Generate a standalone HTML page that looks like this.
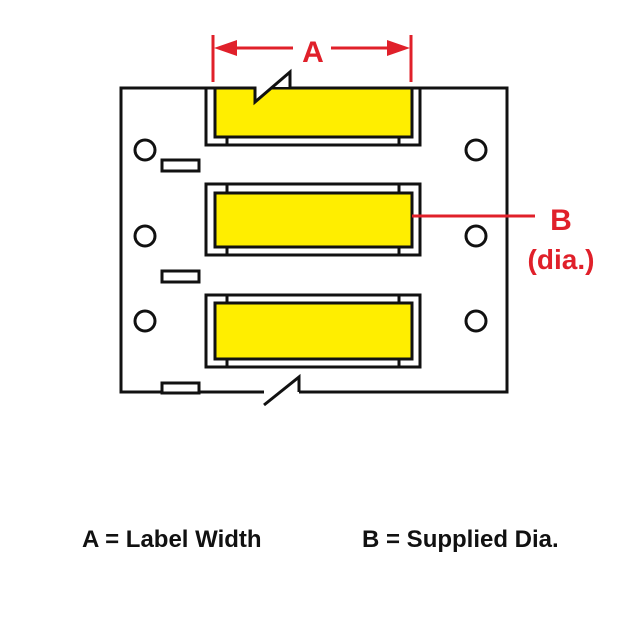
<!DOCTYPE html>
<html><head><style>body{margin:0;background:#fff}svg{display:block}</style></head><body>
<svg width="640" height="640" viewBox="0 0 640 640" xmlns="http://www.w3.org/2000/svg">
<g fill="none" stroke="#111" stroke-width="3">
<path d="M206 88 H121 V392 H264"/>
<path d="M299 392 H507 V88 H420"/>
<path d="M264 405 L299 377 V392" />
</g>
<g stroke="#111" stroke-width="3">
<rect x="206" y="88" width="214" height="57" fill="#fff"/>
<rect x="215" y="88" width="197" height="49" fill="#ffee00"/>
<line x1="227" y1="137" x2="227" y2="145"/><line x1="399" y1="137" x2="399" y2="145"/>
<rect x="206" y="184" width="214" height="71" fill="#fff"/>
<rect x="215" y="193" width="197" height="54" fill="#ffee00"/>
<line x1="227" y1="184" x2="227" y2="193"/><line x1="399" y1="184" x2="399" y2="193"/>
<line x1="227" y1="247" x2="227" y2="255"/><line x1="399" y1="247" x2="399" y2="255"/>
<rect x="206" y="295" width="214" height="72" fill="#fff"/>
<rect x="215" y="303" width="197" height="56" fill="#ffee00"/>
<line x1="227" y1="295" x2="227" y2="303"/><line x1="399" y1="295" x2="399" y2="303"/>
<line x1="227" y1="359" x2="227" y2="367"/><line x1="399" y1="359" x2="399" y2="367"/>
</g>
<rect x="254" y="70" width="40" height="17" fill="#fff"/>
<path d="M256 86.5 V102 L288.5 74 V86.5 Z" fill="#fff"/>
<path d="M215 88 H255 V102 L290 72 V88 H412" fill="none" stroke="#111" stroke-width="3"/>
<g fill="#fff" stroke="#111" stroke-width="3">
<circle cx="145" cy="150" r="10"/><circle cx="145" cy="236" r="10"/><circle cx="145" cy="321" r="10"/>
<circle cx="476" cy="150" r="10"/><circle cx="476" cy="236" r="10"/><circle cx="476" cy="321" r="10"/>
<rect x="162" y="160" width="37" height="11"/><rect x="162" y="271" width="37" height="11"/><rect x="162" y="383" width="37" height="10"/>
</g>
<g stroke="#e0202a" stroke-width="3" fill="#e0202a">
<line x1="213" y1="35" x2="213" y2="82"/><line x1="411" y1="35" x2="411" y2="82"/>
<line x1="225" y1="48" x2="293" y2="48"/><line x1="331" y1="48" x2="400" y2="48"/>
<polygon points="214,48 237,40 237,56" stroke="none"/>
<polygon points="410,48 387,40 387,56" stroke="none"/>
<line x1="412" y1="216" x2="535" y2="216"/>
</g>
<g font-family="Liberation Sans, sans-serif" font-weight="bold" fill="#e0202a">
<text x="313" y="62" font-size="30" text-anchor="middle">A</text>
<text x="561" y="230" font-size="30" text-anchor="middle">B</text>
<text x="561" y="269" font-size="28" text-anchor="middle">(dia.)</text>
</g>
<g font-family="Liberation Sans, sans-serif" font-weight="bold" fill="#111" font-size="24">
<text x="82" y="547">A = Label Width</text>
<text x="362" y="547">B = Supplied Dia.</text>
</g>
</svg>
</body></html>
